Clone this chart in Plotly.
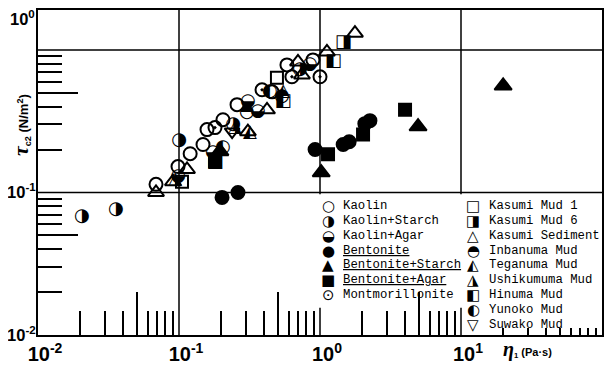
import plotly.graph_objects as go

# ---------------- data : eta1 (Pa*s) vs tau_c2 (N/m^2) ----------------
kaolin_eta = [0.0687, 0.0984, 0.120, 0.148, 0.158, 0.205, 0.258, 0.457, 0.583, 0.891]
kaolin_tau = [0.114, 0.152, 0.187, 0.217, 0.276, 0.324, 0.413, 0.508, 0.785, 0.851]
kaolin_starch_eta = [0.0205, 0.0357, 0.100, 0.242, 0.721]
kaolin_starch_tau = [0.0679, 0.0760, 0.231, 0.299, 0.725]
kaolin_agar_eta = [0.0984, 0.174, 0.308, 0.363, 0.849]
kaolin_agar_tau = [0.129, 0.190, 0.433, 0.368, 0.785]
bentonite_eta = [0.202, 0.262, 0.923, 1.46, 1.61, 2.08, 2.26]
bentonite_tau = [0.0923, 0.100, 0.200, 0.217, 0.227, 0.304, 0.319]
bent_starch_eta = [0.195, 1.02, 4.96, 19.9]
bent_starch_tau = [0.194, 0.138, 0.290, 0.560]
bent_agar_eta = [0.180, 1.14, 2.02, 4.01]
bent_agar_tau = [0.165, 0.185, 0.255, 0.380]
montmor_eta = [0.180, 0.388, 0.632, 1.00]
montmor_tau = [0.285, 0.525, 0.648, 0.648]
kasumi1_eta = [0.105, 0.495]
kasumi1_tau = [0.119, 0.637]
kasumi6_eta = [1.46]
kasumi6_tau = [1.12]
kasumi_sed_eta = [0.0687, 0.0906, 0.114, 0.308, 0.421, 0.698, 0.745, 1.12, 1.77]
kasumi_sed_tau = [0.100, 0.119, 0.145, 0.267, 0.380, 0.824, 0.668, 0.968, 1.31]
inbanuma_eta = [0.303, 0.537]
inbanuma_tau = [0.362, 0.469]
teganuma_eta = [0.319, 0.547]
teganuma_tau = [0.263, 0.508]
ushiku_eta = [0.0938, 0.249]
ushiku_tau = [0.123, 0.285]
hinuma_eta = [0.180, 0.547, 1.24]
hinuma_tau = [0.162, 0.433, 0.824]
yunoko_eta = [0.205, 0.441]
yunoko_tau = [0.206, 0.508]
suwako_eta = [0.238]
suwako_tau = [0.267]

# ---------------- ticks / labels ----------------
x_tick_vals = [0.01, 0.1, 1, 10, 100]
x_tick_text = ["10<sup>-2</sup>", "10<sup>-1</sup>", "10<sup>0</sup>", "10<sup>1</sup>", "10<sup>2</sup>"]
Y_TOP_LOG = 0.28
y_tick_vals = [0.01, 0.1]
y_tick_text = ["10<sup>-2</sup>", "10<sup>-1</sup>"]
y_top_label = "10<sup>0</sup>"       # printed at the top corner of the frame in the original
minor_mult = [2, 3, 4, 6, 7, 8, 9]
x_minor = [m * 10 ** d for d in (-2, -1, 0) for m in minor_mult]
x_five = [5 * 10 ** d for d in (-2, -1, 0)]
x_last = [m * 10 for m in range(2, 10)]
y_minor = [m * 10 ** d for d in (-2, -1) for m in minor_mult]
y_five = [0.05, 0.5]

legend_left = [("○", "Kaolin"), ("◑", "Kaolin+Starch"), ("◒", "Kaolin+Agar"),
               ("●", "<u>Bentonite</u>"), ("▲", "<u>Bentonite+Starch</u>"),
               ("■", "<u>Bentonite+Agar</u>"), ("⊙", "Montmorillonite")]
legend_right = [("□", "Kasumi Mud 1"), ("◨", "Kasumi Mud 6"), ("△", "Kasumi Sediment"),
                ("◓", "Inbanuma Mud"), ("◭", "Teganuma Mud"), ("◮", "Ushikumuma Mud"),
                ("◧", "Hinuma Mud"), ("◐", "Yunoko Mud"), ("▽", "Suwako Mud")]

# ---------------- figure geometry (page has an 8px body margin) ----------------
OFF = 8
W, H = 616 - OFF, 366 - OFF
PL, PR, PT, PB = 38, 602, 10, 335          # plot frame in page pixels
ML, MR, MT, MB = PL - OFF, 616 - PR, PT - OFF, 366 - PB
PW, PH = PR - PL, PB - PT

def px2paper(px, py):
    return (px - PL) / PW, (PB - py) / PH

fig = go.Figure()
BLK = "black"

marker_series = [
    (kaolin_eta, kaolin_tau, "circle-open", 13, "x", "y"),
    (bentonite_eta, bentonite_tau, "circle", 13, "x2", "y"),
    (bent_starch_eta, bent_starch_tau, "triangle-up", 15, "x3", "y"),
    (bent_agar_eta, bent_agar_tau, "square", 12, "x4", "y"),
    (montmor_eta, montmor_tau, "circle-open-dot", 13, "x", "y2"),
    (kasumi1_eta, kasumi1_tau, "square-open", 12, "x", "y3"),
    (kasumi_sed_eta, kasumi_sed_tau, "triangle-up-open", 14, "x", "y"),
    (suwako_eta, suwako_tau, "triangle-down-open", 13, "x", "y"),
]
for xs, ys, sym, sz, xa, ya in marker_series:
    fig.add_trace(go.Scatter(
        x=xs, y=ys, mode="markers", xaxis=xa, yaxis=ya, showlegend=False,
        marker=dict(symbol=sym, size=sz, color=BLK,
                    line=dict(color=BLK, width=2)),
        hoverinfo="skip"))

glyph_series = [
    (kaolin_starch_eta, kaolin_starch_tau, "◑"),
    (kaolin_agar_eta, kaolin_agar_tau, "◒"),
    (kasumi6_eta, kasumi6_tau, "◨"),
    (inbanuma_eta, inbanuma_tau, "◓"),
    (teganuma_eta, teganuma_tau, "◭"),
    (ushiku_eta, ushiku_tau, "◮"),
    (hinuma_eta, hinuma_tau, "◧"),
    (yunoko_eta, yunoko_tau, "◐"),
]
for xs, ys, g in glyph_series:
    fig.add_trace(go.Scatter(
        x=xs, y=ys, mode="text", text=[g] * len(xs), textposition="middle center",
        textfont=dict(family="DejaVu Sans", size=18, color=BLK),
        showlegend=False, hoverinfo="skip"))

# grid lines (segments, interrupted by legend box)
grid = dict(color=BLK, width=1.5)
LEG_TOP = 0.097
for yv in (1, 0.1):
    fig.add_shape(type="line", xref="x", yref="y", x0=0.01, x1=100, y0=yv, y1=yv,
                  line=grid, layer="below")
fig.add_shape(type="line", xref="x", yref="y", x0=0.1, x1=0.1, y0=0.01, y1=10 ** Y_TOP_LOG,
              line=grid, layer="below")
for xv in (1, 10):
    fig.add_shape(type="line", xref="x", yref="y", x0=xv, x1=xv, y0=LEG_TOP, y1=10 ** Y_TOP_LOG,
                  line=grid, layer="below")
    fig.add_shape(type="line", xref="x", yref="y", x0=xv, x1=xv, y0=0.01, y1=0.0155,
                  line=grid, layer="below")

x_tick_font = dict(family="Liberation Sans", size=20, color=BLK, weight="bold")
y_tick_font = dict(family="Liberation Sans", size=16.5, color=BLK, weight="bold")
axis_common = dict(type="log", showgrid=False, zeroline=False, automargin=False)
fig.update_layout(
    width=W, height=H, margin=dict(l=ML, r=MR, t=MT, b=MB, pad=0),
    paper_bgcolor="white", plot_bgcolor="white",
    xaxis=dict(**axis_common, range=[-2, 2], tickvals=x_tick_vals, ticktext=x_tick_text,
               ticks="", showline=True, mirror=True, linewidth=2, linecolor=BLK,
               tickfont=x_tick_font, ticklabelshift=7),
    xaxis2=dict(**axis_common, range=[-2, 2], overlaying="x", anchor="y", tickvals=x_minor,
                ticks="inside", ticklen=24, tickwidth=1.5, tickcolor=BLK, showticklabels=False),
    xaxis3=dict(**axis_common, range=[-2, 2], overlaying="x", anchor="y", tickvals=x_five,
                ticks="inside", ticklen=43, tickwidth=1.5, tickcolor=BLK, showticklabels=False),
    xaxis4=dict(**axis_common, range=[-2, 2], overlaying="x", anchor="y", tickvals=x_last,
                ticks="inside", ticklen=7, tickwidth=1.5, tickcolor=BLK, showticklabels=False),
    yaxis=dict(**axis_common, range=[-2, Y_TOP_LOG], tickvals=y_tick_vals, ticktext=y_tick_text,
               ticks="", showline=True, mirror=True, linewidth=2, linecolor=BLK,
               tickfont=y_tick_font, ticklabelstandoff=-3),
    yaxis2=dict(**axis_common, range=[-2, Y_TOP_LOG], overlaying="y", anchor="x", tickvals=y_minor,
                ticks="inside", ticklen=24, tickwidth=1.5, tickcolor=BLK, showticklabels=False),
    yaxis3=dict(**axis_common, range=[-2, Y_TOP_LOG], overlaying="y", anchor="x", tickvals=y_five,
                ticks="inside", ticklen=40, tickwidth=1.5, tickcolor=BLK, showticklabels=False),
    showlegend=False,
)

# "10^0" label at the top-left corner of the frame
xa, ya = px2paper(37, 18)
fig.add_annotation(x=xa, y=ya, xref="paper", yref="paper", text=y_top_label, showarrow=False,
                   xanchor="right", yanchor="middle", font=y_tick_font)

# manual legend
leg_font = dict(family="Liberation Mono", size=12.3, color=BLK)
sym_font = dict(family="DejaVu Sans", size=15, color=BLK)
row0, dy = 206, 14.85
for cols, sx, tx in ((legend_left, 328, 341), (legend_right, 473, 487)):
    for i, (sym, name) in enumerate(cols):
        py = row0 + i * dy
        xs_, ys_ = px2paper(sx, py)
        fig.add_annotation(x=xs_, y=ys_, xref="paper", yref="paper", text=sym, showarrow=False,
                           xanchor="center", yanchor="middle", font=sym_font)
        xt, yt = px2paper(tx, py)
        fig.add_annotation(x=xt, y=yt, xref="paper", yref="paper", text=name, showarrow=False,
                           xanchor="left", yanchor="middle", font=leg_font)

# axis titles
xa, ya = px2paper(21, 125)
fig.add_annotation(x=xa, y=ya, xref="paper", yref="paper", textangle=-90, showarrow=False,
                   text="<span style='font-family:Liberation Serif;font-size:22px'><i>τ</i></span>"
                        "<sub>c2</sub> (N/m<sup>2</sup>)",
                   font=dict(family="Liberation Sans", size=13, color=BLK, weight="bold"),
                   xanchor="center", yanchor="middle")
xa, ya = px2paper(501, 349)
fig.add_annotation(x=xa, y=ya, xref="paper", yref="paper", showarrow=False,
                   text="<span style='font-family:Liberation Serif;font-size:20px'><i>η</i></span>"
                        "<sub>1</sub> (Pa·s)",
                   font=dict(family="Liberation Sans", size=11, color=BLK, weight="bold"),
                   xanchor="left", yanchor="middle")

fig.write_html("out.html")
